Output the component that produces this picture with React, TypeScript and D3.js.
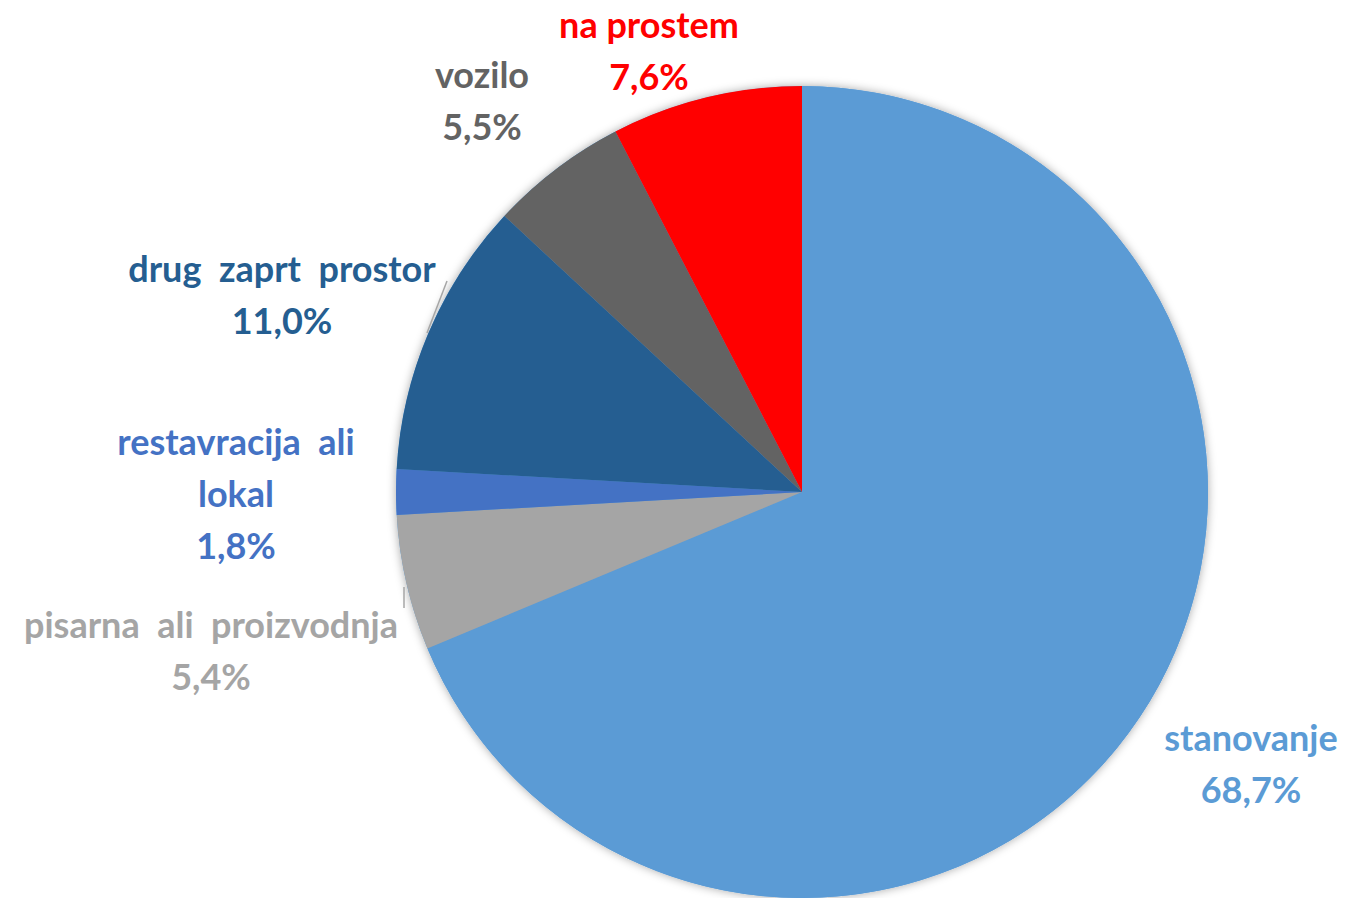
import React from "react";
import * as d3 from "d3";

const categories = [
  "stanovanje",
  "pisarna ali proizvodnja",
  "restavracija ali lokal",
  "drug zaprt prostor",
  "vozilo",
  "na prostem",
];
const shares = [68.7, 5.4, 1.8, 11.0, 5.5, 7.6];
const colours = ["#5B9BD5", "#A5A5A5", "#4472C4", "#255E91", "#636363", "#FF0000"];

// label lines and placement (centre x, first baseline y)
const labelLines = [
  ["stanovanje"],
  ["pisarna  ali  proizvodnja"],
  ["restavracija  ali", "lokal"],
  ["drug  zaprt  prostor"],
  ["vozilo"],
  ["na prostem"],
];
const labelPos = [
  [1251, 751],
  [211, 638],
  [236, 455],
  [282, 282],
  [482, 88],
  [649, 38],
];

const W = 1345;
const H = 898;
const cx = 802;
const cy = 492;
const R = 406;
const lineH = 52;

export default function App() {
  const data = categories.map((c, i) => ({ name: c, value: shares[i], color: colours[i], i }));
  const pie = d3
    .pie<any>()
    .sort(null)
    .value((d) => d.value)
    .startAngle(0)
    .endAngle(2 * Math.PI);
  const arc = d3.arc<any>().innerRadius(0).outerRadius(R);
  const arcs = pie(data);
  const fmt = (v: number) => v.toFixed(1).replace(".", ",") + "%";

  return (
    <svg
      width={W}
      height={H}
      style={{ position: "absolute", left: 0, top: 0 }}
      fontFamily="Lato, 'Open Sans', sans-serif"
      fontWeight="bold"
    >
      <defs>
        <filter id="sh" x="-10%" y="-10%" width="120%" height="120%">
          <feDropShadow dx="0" dy="0" stdDeviation="5" floodColor="#000" floodOpacity="0.35" />
        </filter>
      </defs>
      <rect width={W} height={H} fill="#fff" />
      <g transform={`translate(${cx},${cy})`}>
        <circle r={R} fill="#5B9BD5" filter="url(#sh)" />
        {arcs.map((a) => (
          <path key={a.data.name} d={arc(a) as string} fill={a.data.color} />
        ))}
      </g>
      {/* leader lines */}
      <line x1={447} y1={281} x2={427} y2={333} stroke="#A6A6A6" strokeWidth={1.5} />
      <line x1={404} y1={587} x2={404} y2={608} stroke="#A6A6A6" strokeWidth={1.5} />
      {arcs.map((a, i) => {
        const [x, y] = labelPos[i];
        const lines = [...labelLines[i], fmt(a.data.value)];
        return (
          <text key={i} x={x} y={y} textAnchor="middle" fontSize={36} fill={a.data.color} style={{ whiteSpace: "pre" }}>
            {lines.map((t, j) => (
              <tspan key={j} x={x} y={y + j * lineH}>
                {t}
              </tspan>
            ))}
          </text>
        );
      })}
    </svg>
  );
}
